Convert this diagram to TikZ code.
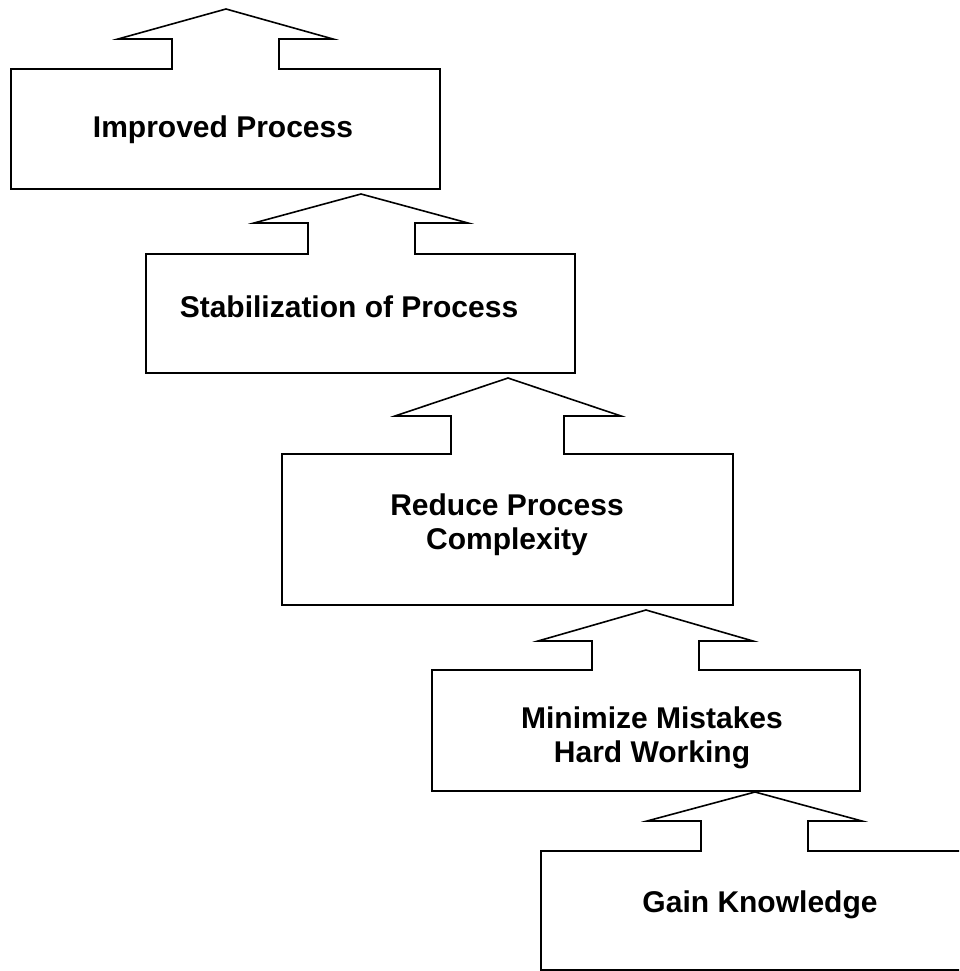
\documentclass[tikz,border=0pt]{standalone}
\usepackage{fontspec}
\setmainfont{Liberation Sans}
\begin{document}
\begin{tikzpicture}[x=1pt,y=-1pt,
  shapeline/.style={draw=black,line width=1.6pt,line join=miter,fill=white},
  label/.style={font=\fontsize{30}{34}\selectfont\bfseries,align=center,inner sep=0pt}]
\useasboundingbox (0,0) rectangle (959,971);
\clip (0,0) rectangle (959,971);
% Shape 1
\draw[shapeline] (11,189) -- (11,69) -- (172,69) -- (172,39) -- (118,39) -- (226,9) -- (333,39) -- (279,39) -- (279,69) -- (440,69) -- (440,189) -- cycle;
\node[label,anchor=base] (t1) at (223,137) {Improved Process};
% Shape 2
\draw[shapeline] (146,373) -- (146,254) -- (308,254) -- (308,223) -- (254,223) -- (361,194) -- (468,223) -- (415,223) -- (415,254) -- (575,254) -- (575,373) -- cycle;
\node[label,anchor=base] (t2) at (349,317) {Stabilization of Process};
% Shape 3
\draw[shapeline] (282,605) -- (282,454) -- (451,454) -- (451,416) -- (395,416) -- (508,378) -- (621,416) -- (564,416) -- (564,454) -- (733,454) -- (733,605) -- cycle;
\node[label] (t3) at (507,525) {Reduce Process\\Complexity};
% Shape 4
\draw[shapeline] (432,791) -- (432,670) -- (592,670) -- (592,641) -- (538,641) -- (646,610) -- (753,641) -- (699,641) -- (699,670) -- (860,670) -- (860,791) -- cycle;
\node[label] (t4) at (652,738) {Minimize Mistakes\\Hard Working};
% Shape 5
\draw[shapeline] (541,970) -- (541,851) -- (701,851) -- (701,821) -- (647,821) -- (755,792) -- (862,821) -- (808,821) -- (808,851) -- (970,851) -- (970,970) -- cycle;
\node[label,anchor=base] (t5) at (760,912) {Gain Knowledge};
\end{tikzpicture}
\end{document}
